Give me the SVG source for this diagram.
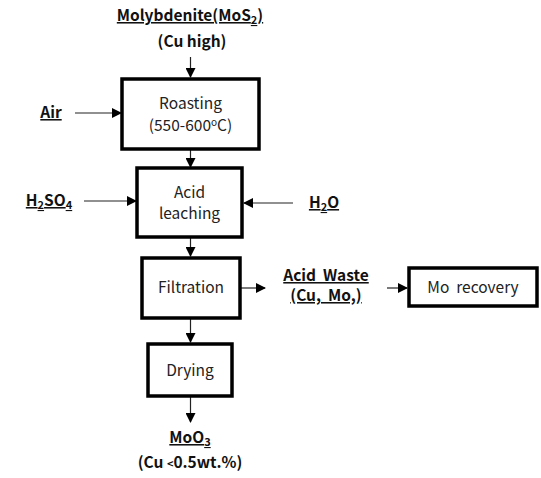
<svg xmlns="http://www.w3.org/2000/svg" width="541" height="478" viewBox="0 0 541 478">
<style>
.box{fill:#fff;stroke:#000;stroke-width:3.5}
.t{font-family:"Noto Sans CJK KR","Noto Sans",sans-serif;font-size:15.5px;fill:#222;text-anchor:middle}
.b{font-family:"Noto Sans CJK KR","Noto Sans",sans-serif;font-size:15.5px;font-weight:bold;fill:#111;text-anchor:middle}
.u{text-decoration:underline}
.c{stroke:#222;stroke-width:1.2;fill:none;marker-end:url(#ah)}
</style>
<defs>
<marker id="ah" markerWidth="10" markerHeight="10" refX="9" refY="5" orient="auto" markerUnits="userSpaceOnUse">
<path d="M0,0 L10,5 L0,10 Z" fill="#000"/>
</marker>
</defs>
<rect width="541" height="478" fill="#fff"/>
<g id="connectors">
<line class="c" x1="190.5" y1="57" x2="190.5" y2="77"/>
<line class="c" x1="75" y1="113" x2="121" y2="113"/>
<line class="c" x1="190.5" y1="150" x2="190.5" y2="167"/>
<line class="c" x1="84" y1="201" x2="136" y2="201"/>
<line class="c" x1="293" y1="203" x2="244" y2="203"/>
<line class="c" x1="190.5" y1="238" x2="190.5" y2="256"/>
<line class="c" x1="241" y1="288" x2="265" y2="288"/>
<line class="c" x1="387" y1="288" x2="407" y2="288"/>
<line class="c" x1="190.5" y1="318" x2="190.5" y2="342"/>
<line class="c" x1="190.5" y1="397" x2="190.5" y2="422"/>
</g>
<g id="molybdenite">
<text class="b" x="190" y="21"><tspan class="u">Molybdenite(MoS<tspan font-size="11" dy="3">2</tspan><tspan dy="-3">)</tspan></tspan></text>
<text class="b" x="192" y="47">(Cu high)</text>
</g>
<g id="air"><text class="b u" x="51" y="118">Air</text></g>
<g id="roasting">
<rect class="box" x="122" y="79" width="137" height="70"/>
<text class="t" x="190.5" y="109">Roasting</text>
<text class="t" x="190.5" y="131">(550-600<tspan font-size="10" dy="-5">o</tspan><tspan dy="5">C)</tspan></text>
</g>
<g id="h2so4"><text class="b u" x="49" y="206">H<tspan font-size="11" dy="3">2</tspan><tspan dy="-3">SO</tspan><tspan font-size="11" dy="3">4</tspan></text></g>
<g id="h2o"><text class="b u" x="324" y="208">H<tspan font-size="11" dy="3">2</tspan><tspan dy="-3">O</tspan></text></g>
<g id="leaching">
<rect class="box" x="137" y="168" width="105" height="69"/>
<text class="t" x="189.5" y="198">Acid</text>
<text class="t" x="189.5" y="219">leaching</text>
</g>
<g id="filtration">
<rect class="box" x="142" y="258" width="98" height="60"/>
<text class="t" x="191" y="293">Filtration</text>
</g>
<g id="acidwaste">
<text class="b u" x="326" y="281">Acid &#160;Waste</text>
<text class="b u" x="326" y="301">(Cu, &#160;Mo,)</text>
</g>
<g id="morecovery">
<rect class="box" x="409" y="268" width="128" height="38"/>
<text class="t" x="473" y="293">Mo &#160;recovery</text>
</g>
<g id="drying">
<rect class="box" x="148" y="344" width="84" height="52"/>
<text class="t" x="190" y="376">Drying</text>
</g>
<g id="moo3">
<text class="b u" x="190" y="443">MoO<tspan font-size="11" dy="3">3</tspan></text>
<text class="b" x="190" y="468">(Cu <tspan font-size="11">&lt;</tspan>0.5wt.%)</text>
</g>
</svg>
